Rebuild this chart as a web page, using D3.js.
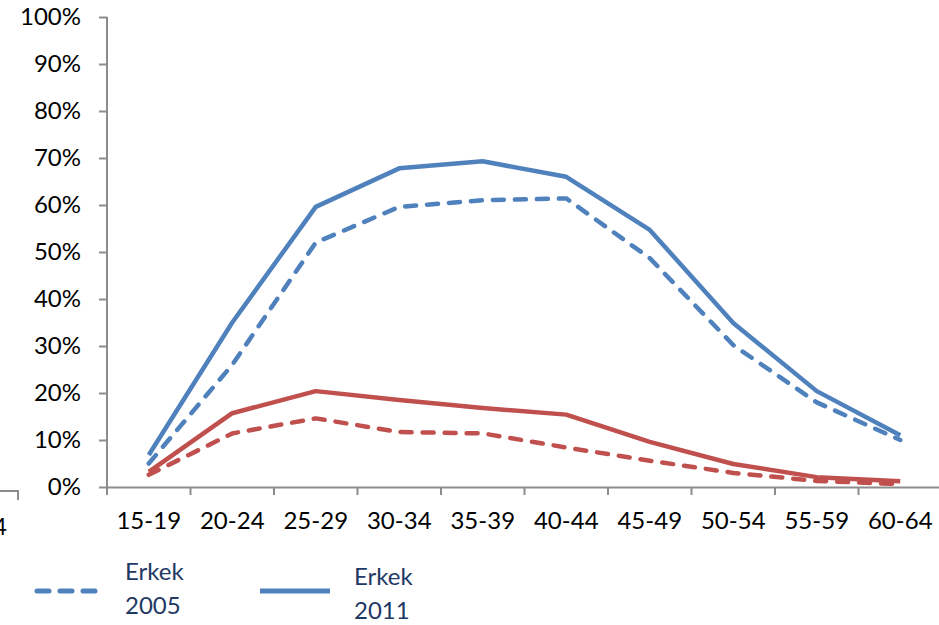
<!DOCTYPE html>
<html><head><meta charset="utf-8">
<script src="https://cdn.jsdelivr.net/npm/d3@7"></script>
<style>body{margin:0;background:#fff;} svg{display:block;}</style>
</head><body>
<svg id="c" width="939" height="625"></svg>
<script>
const categories = ["15-19","20-24","25-29","30-34","35-39","40-44","45-49","50-54","55-59","60-64"];
const yTicks = [0,10,20,30,40,50,60,70,80,90,100];
const erkek2011 = [6.8,35,59.6,67.8,69.3,66,54.7,34.9,20.4,11];
const erkek2005 = [5,26,52,59.6,61,61.4,48.7,30.2,18,10];
const kadin2011 = [3.2,15.7,20.4,18.5,16.8,15.4,9.6,4.9,2.1,1.2];
const kadin2005 = [2.6,11.4,14.6,11.7,11.4,8.4,5.6,3,1.3,0.6];
const legendLabels = [["Erkek","2005"],["Erkek","2011"]];

const svg = d3.select("#c");
const font = "Lato, 'Open Sans', sans-serif";
const fs = 24;
const axisColor = "#8c8c8c";
const blue = "#4F81BD", red = "#C0504D";

const x = d3.scaleBand().domain(categories).range([107, 942]);
const y = d3.scaleLinear().domain([0,100]).range([487, 17]);

// y axis
const ya = svg.append("g").attr("transform","translate(107,0)")
  .call(d3.axisLeft(y).tickValues(yTicks).tickSize(8).tickFormat(d=>d+"%"));
ya.select(".domain").attr("stroke",axisColor).attr("stroke-width",2).attr("d","M0,17V487");
ya.selectAll(".tick line").attr("stroke",axisColor).attr("stroke-width",2);
ya.selectAll(".tick text").attr("x",-26).attr("font-family",font).attr("font-size",fs).attr("fill","#000");

// x axis
const xa = svg.append("g").attr("transform","translate(0,487)")
  .call(d3.axisBottom(x).tickSize(8).tickSizeOuter(0));
xa.select(".domain").attr("stroke",axisColor).attr("stroke-width",2);
xa.selectAll(".tick line").attr("stroke",axisColor).attr("stroke-width",2)
  .attr("transform",`translate(${-x.bandwidth()/2},0)`);
xa.selectAll(".tick text").attr("y",25).attr("font-family",font).attr("font-size",fs).attr("fill","#000");

const line = d3.line().x((d,i)=>x(categories[i])+x.bandwidth()/2).y(d=>y(d));
const series = [
  {data:kadin2005,color:red,dash:true},
  {data:kadin2011,color:red,dash:false},
  {data:erkek2005,color:blue,dash:true},
  {data:erkek2011,color:blue,dash:false}
];
series.forEach(s=>{
  svg.append("path").datum(s.data).attr("d",line).attr("fill","none")
    .attr("stroke",s.color).attr("stroke-width",4.5)
    .attr("stroke-linejoin","round")
    .attr("stroke-linecap",s.dash?"round":"butt")
    .attr("stroke-dasharray",s.dash?"11,11":null);
});

// fragment of neighbouring chart at left edge
svg.append("path").attr("d","M0,491H18V500").attr("fill","none").attr("stroke",axisColor).attr("stroke-width",2);
svg.append("text").attr("x",7).attr("y",535).attr("text-anchor","end")
  .attr("font-family",font).attr("font-size",fs).text("4");

// legend
const leg = [
  {x1:37,x2:95,tx:125,ty:580,dash:true},
  {x1:260,x2:330,tx:354,ty:585,dash:false}
];
leg.forEach((l,i)=>{
  svg.append("line").attr("x1",l.x1).attr("x2",l.x2).attr("y1",591).attr("y2",591)
    .attr("stroke",blue).attr("stroke-width",5)
    .attr("stroke-linecap",l.dash?"round":"butt")
    .attr("stroke-dasharray",l.dash?"12,11":null);
  const t = svg.append("text").attr("font-family",font).attr("font-size",fs).attr("fill","#1F3864");
  legendLabels[i].forEach((s,j)=>{
    t.append("tspan").attr("x",l.tx).attr("y",l.ty+j*34).text(s);
  });
});
</script>
</body></html>
